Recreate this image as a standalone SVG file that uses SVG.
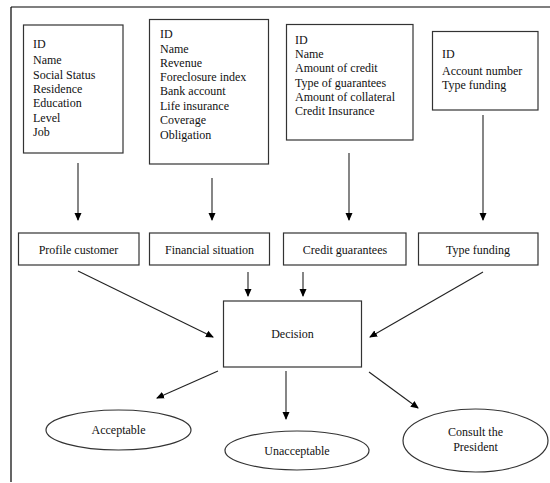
<svg xmlns="http://www.w3.org/2000/svg" width="550" height="483" viewBox="0 0 550 483" font-family="'Liberation Serif', 'DejaVu Serif', serif">
<defs>
<marker id="ah" markerWidth="8" markerHeight="8" refX="7" refY="4" orient="auto" markerUnits="userSpaceOnUse">
<path d="M0,0.5 L8,4 L0,7.5 Z" fill="#000"/>
</marker>
<style>
.box{fill:#fff;stroke:#333;stroke-width:1.2}
.t{font-family:'Liberation Serif','DejaVu Serif',serif;font-size:12px;fill:#111}
.c{text-anchor:middle}
.ln{stroke:#222;stroke-width:1.1;fill:none;marker-end:url(#ah)}
</style>
</defs>
<rect width="550" height="483" fill="#fff"/>
<g id="frame">
<path d="M11,7 L550,7 M11,7 L11,482" stroke="#000" stroke-width="1.2" fill="none"/>
</g>
<g id="attrs-profile">
<rect class="box" x="23.5" y="25" width="99.5" height="128"/>
<text class="t" x="33" y="48">ID</text>
<text class="t" x="33" y="64">Name</text>
<text class="t" x="33" y="79">Social Status</text>
<text class="t" x="33" y="93">Residence</text>
<text class="t" x="33" y="107">Education</text>
<text class="t" x="33" y="122">Level</text>
<text class="t" x="33" y="136">Job</text>
</g>
<g id="attrs-financial">
<rect class="box" x="149.5" y="19.5" width="119" height="144.5"/>
<text class="t" x="160" y="38">ID</text>
<text class="t" x="160" y="53">Name</text>
<text class="t" x="160" y="67">Revenue</text>
<text class="t" x="160" y="81">Foreclosure index</text>
<text class="t" x="160" y="95">Bank account</text>
<text class="t" x="160" y="110">Life insurance</text>
<text class="t" x="160" y="124">Coverage</text>
<text class="t" x="160" y="139">Obligation</text>
</g>
<g id="attrs-credit">
<rect class="box" x="286.5" y="24.5" width="126.5" height="115.5"/>
<text class="t" x="295" y="44">ID</text>
<text class="t" x="295" y="58">Name</text>
<text class="t" x="295" y="72">Amount of credit</text>
<text class="t" x="295" y="87">Type of guarantees</text>
<text class="t" x="295" y="101">Amount of collateral</text>
<text class="t" x="295" y="115">Credit Insurance</text>
</g>
<g id="attrs-funding">
<rect class="box" x="432.5" y="31.5" width="105.5" height="78.5"/>
<text class="t" x="442" y="58">ID</text>
<text class="t" x="442" y="75">Account number</text>
<text class="t" x="442" y="89">Type funding</text>
</g>
<g id="profile">
<rect class="box" x="18.5" y="233" width="120.5" height="32"/>
<text class="t c" x="78.5" y="254">Profile customer</text>
</g>
<g id="financial">
<rect class="box" x="149.5" y="233" width="120" height="32"/>
<text class="t c" x="209.5" y="254">Financial situation</text>
</g>
<g id="credit">
<rect class="box" x="283.5" y="233" width="122.5" height="32"/>
<text class="t c" x="345" y="254">Credit guarantees</text>
</g>
<g id="funding">
<rect class="box" x="418.5" y="233" width="119.5" height="32"/>
<text class="t c" x="478" y="254">Type funding</text>
</g>
<g id="decision">
<rect class="box" x="223.5" y="301" width="138" height="66"/>
<text class="t c" x="292.5" y="338">Decision</text>
</g>
<g id="acceptable">
<ellipse class="box" cx="118.5" cy="430" rx="72.5" ry="20"/>
<text class="t c" x="118.5" y="434">Acceptable</text>
</g>
<g id="unacceptable">
<ellipse class="box" cx="297" cy="450.5" rx="72" ry="19.5"/>
<text class="t c" x="297" y="455">Unacceptable</text>
</g>
<g id="consult">
<ellipse class="box" cx="475.5" cy="440.5" rx="72.5" ry="31.5"/>
<text class="t c" x="475.5" y="436">Consult the</text>
<text class="t c" x="475.5" y="451">President</text>
</g>
<g id="connectors">
<line class="ln" x1="78" y1="163" x2="78" y2="220"/>
<line class="ln" x1="212" y1="178" x2="212" y2="220"/>
<line class="ln" x1="349" y1="153" x2="349" y2="220"/>
<line class="ln" x1="483" y1="115" x2="483" y2="220"/>
<line class="ln" x1="78" y1="271" x2="213" y2="337"/>
<line class="ln" x1="248" y1="272" x2="248" y2="296"/>
<line class="ln" x1="303" y1="272" x2="303" y2="296"/>
<line class="ln" x1="483" y1="272" x2="370" y2="337"/>
<line class="ln" x1="218" y1="371" x2="157" y2="398"/>
<line class="ln" x1="286" y1="371" x2="286" y2="419"/>
<line class="ln" x1="369" y1="372" x2="418" y2="408"/>
</g>
</svg>
